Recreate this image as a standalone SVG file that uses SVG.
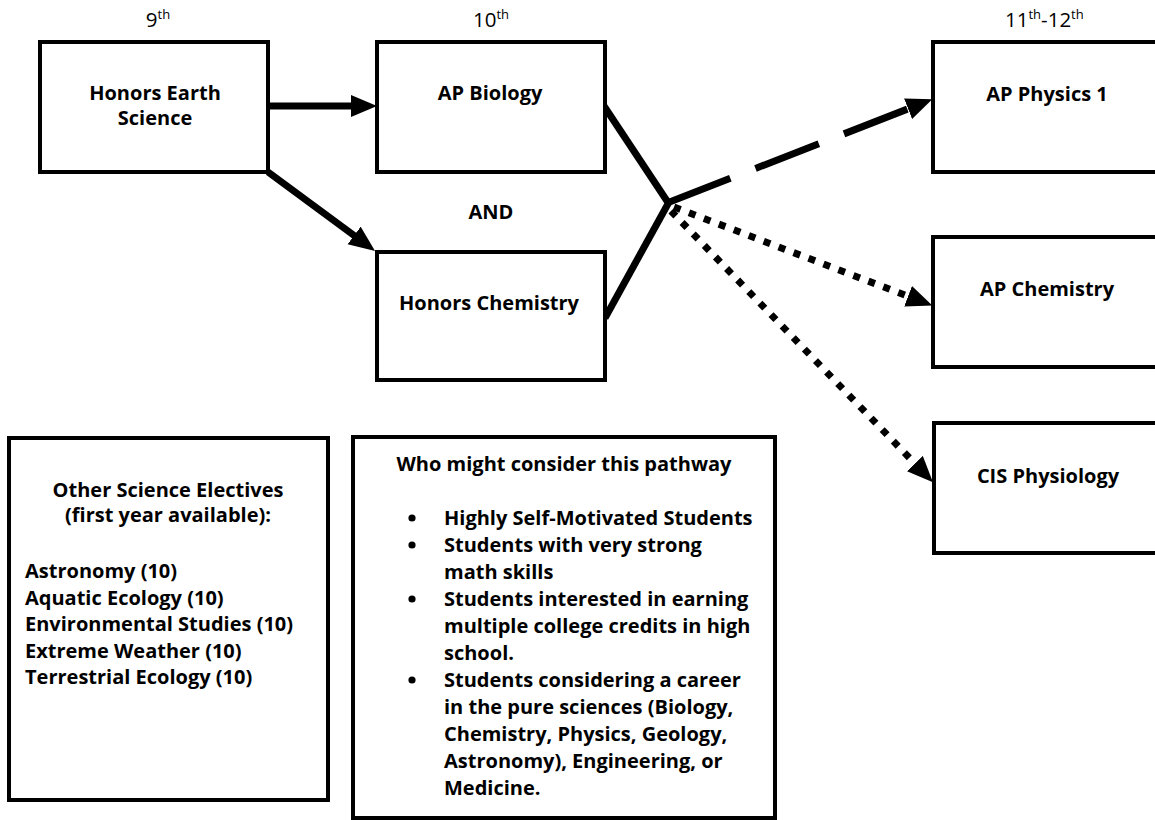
<svg xmlns="http://www.w3.org/2000/svg" width="1155" height="820" viewBox="0 0 1155 820">
<style>
.box{fill:#fff;stroke:#000;stroke-width:4}
.t{font-family:"Open Sans","Liberation Sans",sans-serif;font-weight:bold;font-size:20px;fill:#000}
.h{font-family:"Open Sans","Liberation Sans",sans-serif;font-weight:normal;font-size:20.5px;fill:#000}
.c{text-anchor:middle}
.ln{fill:none;stroke:#000;stroke-width:7}
.dash{stroke-dasharray:68 27}
.dot{stroke-dasharray:7 9}
</style>
<defs>
<marker id="ah" markerUnits="userSpaceOnUse" markerWidth="26" markerHeight="24" refX="16" refY="11" orient="auto" viewBox="0 0 26 24">
<path d="M0,0 L26,11 L0,22 z" fill="#000"/>
</marker>
</defs>
<rect width="1155" height="820" fill="#fff"/>
<g id="headers">
<text class="h c" x="158" y="27">9<tspan font-size="13" dy="-8">th</tspan></text>
<text class="h c" x="491" y="27">10<tspan font-size="13" dy="-8">th</tspan></text>
<text class="h" x="1005" y="27">11<tspan font-size="13" dy="-8">th</tspan><tspan dy="8">-12</tspan><tspan font-size="13" dy="-8">th</tspan></text>
</g>
<g id="connectors">
<line class="ln" x1="268" y1="106" x2="367" y2="106" marker-end="url(#ah)"/>
<line class="ln" x1="268" y1="172" x2="367" y2="245" marker-end="url(#ah)"/>
<line class="ln" x1="604" y1="106" x2="669" y2="204"/>
<line class="ln" x1="605" y1="318" x2="669" y2="202"/>
<line class="ln dash" x1="667" y1="203" x2="923" y2="103" marker-end="url(#ah)"/>
<line class="ln dot" x1="674" y1="207" x2="923" y2="302" marker-end="url(#ah)"/>
<line class="ln dot" x1="671" y1="211" x2="926" y2="475" marker-end="url(#ah)"/>
<text class="t c" x="491" y="219">AND</text>
</g>
<g id="n-earth">
<rect class="box" x="40" y="42" width="228" height="130"/>
<text class="t c" x="155" y="100">Honors Earth</text>
<text class="t c" x="155" y="125">Science</text>
</g>
<g id="n-bio">
<rect class="box" x="377" y="42" width="228" height="130"/>
<text class="t c" x="490" y="100">AP Biology</text>
</g>
<g id="n-chem">
<rect class="box" x="377" y="252" width="228" height="128"/>
<text class="t c" x="489" y="310">Honors Chemistry</text>
</g>
<g id="n-phys">
<rect class="box" x="933" y="42" width="240" height="130"/>
<text class="t c" x="1047" y="101">AP Physics 1</text>
</g>
<g id="n-apchem">
<rect class="box" x="933" y="237" width="240" height="130"/>
<text class="t c" x="1047" y="296">AP Chemistry</text>
</g>
<g id="n-cis">
<rect class="box" x="934" y="423" width="240" height="130"/>
<text class="t c" x="1048" y="483">CIS Physiology</text>
</g>
<g id="n-electives">
<rect class="box" x="9" y="438" width="319" height="362"/>
<text class="t c" x="168" y="497">Other Science Electives</text>
<text class="t c" x="168" y="522">(first year available):</text>
<text class="t" x="25" y="578">Astronomy (10)</text>
<text class="t" x="25" y="604.5">Aquatic Ecology (10)</text>
<text class="t" x="25" y="631">Environmental Studies (10)</text>
<text class="t" x="25" y="657.5">Extreme Weather (10)</text>
<text class="t" x="25" y="684">Terrestrial Ecology (10)</text>
</g>
<g id="n-who">
<rect class="box" x="353" y="437" width="422" height="381"/>
<text class="t c" x="564" y="471">Who might consider this pathway</text>
<g fill="#000">
<circle cx="412" cy="518" r="3.6"/>
<circle cx="412" cy="545" r="3.6"/>
<circle cx="412" cy="599" r="3.6"/>
<circle cx="412" cy="680" r="3.6"/>
</g>
<g class="t">
<text x="444" y="525">Highly Self-Motivated Students</text>
<text x="444" y="552">Students with very strong</text>
<text x="444" y="579">math skills</text>
<text x="444" y="606">Students interested in earning</text>
<text x="444" y="633">multiple college credits in high</text>
<text x="444" y="660">school.</text>
<text x="444" y="687">Students considering a career</text>
<text x="444" y="714">in the pure sciences (Biology,</text>
<text x="444" y="741">Chemistry, Physics, Geology,</text>
<text x="444" y="768">Astronomy), Engineering, or</text>
<text x="444" y="795">Medicine.</text>
</g>
</g>
</svg>
